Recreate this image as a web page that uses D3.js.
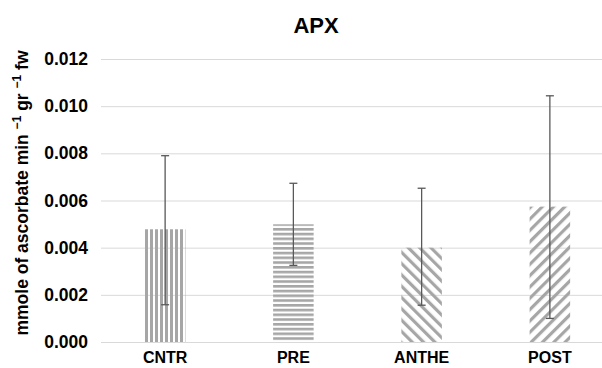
<!DOCTYPE html>
<html><head><meta charset="utf-8">
<script src="https://cdn.jsdelivr.net/npm/d3@7"></script>
<style>body{margin:0;background:#fff}svg{display:block}</style>
</head><body>
<svg id="c" width="602" height="368"></svg>
<script>
const categories = ["CNTR", "PRE", "ANTHE", "POST"];
const values = [0.00478, 0.00499, 0.00400, 0.00574];
const errLow = [0.00158, 0.00325, 0.00156, 0.00100];
const errHigh = [0.00790, 0.00673, 0.00652, 0.01044];
const yTicks = [0, 0.002, 0.004, 0.006, 0.008, 0.010, 0.012];
const patterns = ["vert", "horiz", "down", "up"];

const svg = d3.select("#c");
const font = "'Liberation Sans', Arial, sans-serif";
const x = d3.scaleBand().domain(categories).range([101, 614]).paddingInner(0.684).paddingOuter(0.342);
const y = d3.scaleLinear().domain([0, 0.012]).range([342, 59]);

const defs = svg.append("defs");
const stripe = "#a6a6a6";
let p = defs.append("pattern").attr("id", "vert").attr("patternUnits", "userSpaceOnUse").attr("width", 5).attr("height", 5);
p.append("rect").attr("x", 0).attr("y", 0).attr("width", 3).attr("height", 5).attr("fill", stripe);
p = defs.append("pattern").attr("id", "horiz").attr("patternUnits", "userSpaceOnUse").attr("width", 5).attr("height", 4.75);
p.append("rect").attr("x", 0).attr("y", 0).attr("width", 5).attr("height", 2.6).attr("fill", stripe);
p = defs.append("pattern").attr("id", "down").attr("patternUnits", "userSpaceOnUse").attr("width", 8).attr("height", 8).attr("patternTransform", "rotate(-45)");
p.append("rect").attr("x", 0).attr("y", 0).attr("width", 3.2).attr("height", 8).attr("fill", stripe);
p = defs.append("pattern").attr("id", "up").attr("patternUnits", "userSpaceOnUse").attr("width", 8).attr("height", 8).attr("patternTransform", "rotate(45)");
p.append("rect").attr("x", 0).attr("y", 0).attr("width", 3.2).attr("height", 8).attr("fill", stripe);

// grid
svg.append("g").selectAll("line").data(yTicks).join("line")
  .attr("x1", 101).attr("x2", 614)
  .attr("y1", d => y(d) + 0.5).attr("y2", d => y(d) + 0.5)
  .attr("stroke", "#d9d9d9").attr("stroke-width", 1);

// y axis labels
const yAxis = d3.axisLeft(y).tickValues(yTicks).tickFormat(d3.format(".3f")).tickSize(0).tickPadding(0);
const ya = svg.append("g").attr("transform", "translate(88,0)").call(yAxis);
ya.select(".domain").remove();
ya.selectAll("text").attr("font-family", font).attr("font-size", 17.5).attr("font-weight", "bold").attr("fill", "#000");

// x axis labels
const xAxis = d3.axisBottom(x).tickSize(0).tickPadding(0);
const xa = svg.append("g").attr("transform", "translate(0,352)").call(xAxis);
xa.select(".domain").remove();
xa.selectAll("text").attr("font-family", font).attr("font-size", 16).attr("font-weight", "bold").attr("fill", "#000");

// bars
svg.append("g").selectAll("rect").data(categories).join("rect")
  .attr("x", d => x(d)).attr("width", x.bandwidth())
  .attr("y", (d, i) => y(values[i])).attr("height", (d, i) => y(0) - y(values[i]))
  .attr("fill", (d, i) => `url(#${patterns[i]})`);

// error bars
const eg = svg.append("g").attr("stroke", "#595959").attr("stroke-width", 1.3);
categories.forEach((c, i) => {
  const cx = x(c) + x.bandwidth() / 2;
  eg.append("line").attr("x1", cx).attr("x2", cx).attr("y1", y(errHigh[i])).attr("y2", y(errLow[i]));
  eg.append("line").attr("x1", cx - 4).attr("x2", cx + 4).attr("y1", y(errHigh[i])).attr("y2", y(errHigh[i]));
  eg.append("line").attr("x1", cx - 4).attr("x2", cx + 4).attr("y1", y(errLow[i])).attr("y2", y(errLow[i]));
});

// title
svg.append("text").attr("x", 316).attr("y", 33).attr("text-anchor", "middle")
  .attr("font-family", font).attr("font-size", 22).attr("font-weight", "bold").text("APX");

// y title
const yt = svg.append("text").attr("transform", "translate(28,193) rotate(-90)").attr("text-anchor", "middle")
  .attr("font-family", font).attr("font-size", 17.5).attr("font-weight", "bold");
yt.append("tspan").text("mmole of ascorbate min ");
yt.append("tspan").attr("font-size", 12).attr("dy", -7).text("\u22121");
yt.append("tspan").attr("dy", 7).text(" gr ");
yt.append("tspan").attr("font-size", 12).attr("dy", -7).text("\u22121");
yt.append("tspan").attr("dy", 7).text(" fw");
</script>
</body></html>
